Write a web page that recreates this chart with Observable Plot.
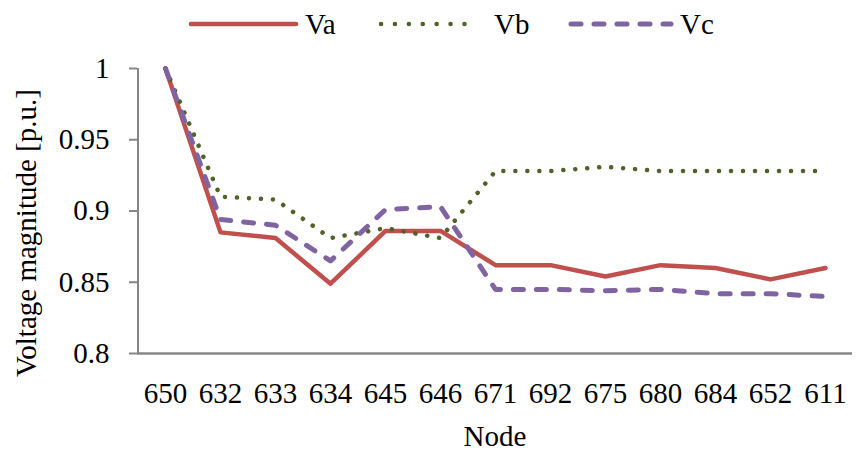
<!DOCTYPE html>
<html>
<head>
<meta charset="utf-8">
<script src="https://cdn.jsdelivr.net/npm/d3@7"></script>
<script src="https://cdn.jsdelivr.net/npm/@observablehq/plot@0.6"></script>
<style>
  body { margin: 0; }
  #chart { width: 857px; font-family: 'Liberation Serif', serif; }
  #legend { position: relative; width: 857px; height: 45px; }
  #legend svg { position: absolute; top: 0; left: 0; }
  #legend span { position: absolute; top: 10px; font-size: 29px; line-height: 29px; color: #000;
    font-family: 'Liberation Serif', serif; }
  #plot svg { display: block; }
</style>
</head>
<body>
<div id="chart">
  <div id="legend">
    <span class="lab" style="left:305px">Va</span>
    <span class="lab" style="left:494px">Vb</span>
    <span class="lab" style="left:680px">Vc</span>
  </div>
  <div id="plot"></div>
</div>
<script>
// Node voltage magnitudes per phase (p.u.)
const nodes = ["650", "632", "633", "634", "645", "646", "671", "692", "675", "680", "684", "652", "611"];
const va = [1.000, 0.885, 0.881, 0.849, 0.886, 0.886, 0.862, 0.862, 0.854, 0.862, 0.860, 0.852, 0.860];
const vb = [1.000, 0.910, 0.908, 0.881, 0.888, 0.881, 0.928, 0.928, 0.931, 0.928, 0.928, 0.928, 0.928];
const vc = [1.000, 0.894, 0.890, 0.865, 0.901, 0.903, 0.845, 0.845, 0.844, 0.845, 0.842, 0.842, 0.840];
const yTicks = [0.8, 0.85, 0.9, 0.95, 1];

const series = [
  {name: "Va", values: va, color: "#C0504D", width: 4.5, dash: null, legendDash: null},
  {name: "Vb", values: vb, color: "#4F6228", width: 4.5, dash: "0.1,11.9", legendDash: "0.1,13.8"},
  {name: "Vc", values: vc, color: "#8064A2", width: 5, dash: "10,13", legendDash: "10,13"}
];

const FONT = "Liberation Serif";
const rows = s => nodes.map((n, i) => ({node: n, v: s.values[i]}));

// Legend: line swatches in an SVG strip next to the HTML labels
const legend = d3.select("#legend");
const strip = legend.insert("svg", ":first-child").attr("width", 857).attr("height", 45);
const swatches = [
  {x1: 191, x2: 296},
  {x1: 381, x2: 478},
  {x1: 571, x2: 671}
];
const labels = legend.selectAll("span.lab").nodes();
series.forEach((s, i) => {
  const p = swatches[i];
  strip.append("line")
    .attr("x1", p.x1).attr("x2", p.x2).attr("y1", 24).attr("y2", 24)
    .attr("stroke", s.color).attr("stroke-width", s.width)
    .attr("stroke-linecap", "round")
    .attr("stroke-dasharray", s.legendDash);
  labels[i].textContent = s.name;
});

const plot = Plot.plot({
  width: 857,
  height: 406,
  marginTop: 23,
  marginBottom: 98,
  marginLeft: 137,
  marginRight: 5,
  style: {fontFamily: FONT, fontSize: "29px", color: "#000", background: "#fff"},
  x: {type: "point", domain: nodes, padding: 0.5},
  y: {domain: [0.8, 1]},
  marks: [
    Plot.axisY({ticks: yTicks, tickSize: 8, tickPadding: 20, stroke: "#868686", strokeWidth: 2,
      tickFormat: d => String(+d.toFixed(2)), label: null, fill: "#000", fontVariant: "normal"}),
    Plot.ruleX([0], {x: () => nodes[0], dx: -27.5, y1: 0.8, y2: 1, stroke: "#868686", strokeWidth: 2}),
    Plot.axisX({tickSize: 0, tickPadding: 29, label: null, fill: "#000", fontVariant: "normal"}),
    Plot.ruleY([0.8], {stroke: "#868686", strokeWidth: 2.5}),
    ...series.map(s => Plot.line(rows(s), {
      x: "node", y: "v", stroke: s.color, strokeWidth: s.width,
      strokeDasharray: s.dash, strokeLinecap: "round", strokeLinejoin: "round"
    })),
    Plot.text(["Node"], {frameAnchor: "bottom", dy: 83, lineAnchor: "middle", fontSize: 29}),
    Plot.text(["Voltage magnitude [p.u.]"], {frameAnchor: "left", rotate: -90, dx: -111, dy: 22,
      textAnchor: "middle", lineAnchor: "middle", fontSize: 29})
  ]
});
document.getElementById("plot").appendChild(plot);
</script>
</body>
</html>
